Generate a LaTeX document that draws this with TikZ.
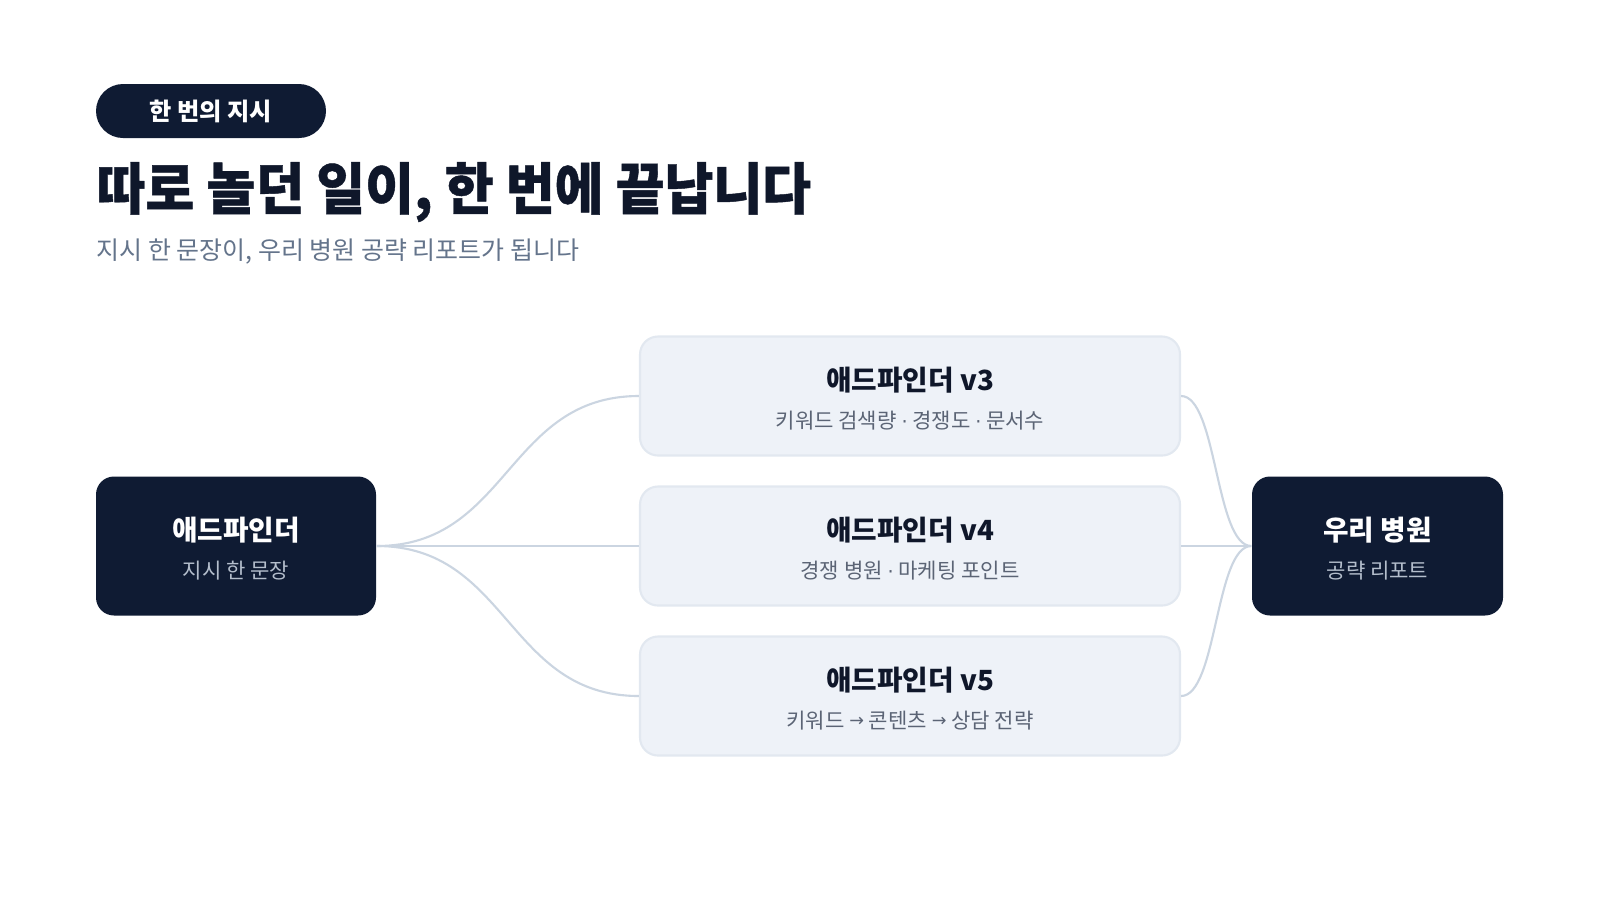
\documentclass[tikz,border=0pt]{standalone}
\usepackage{fontspec}
\usepackage{graphicx}
\setmainfont{Noto Sans CJK KR}
\newfontfamily\heavyfont{Noto Sans CJK KR}[BoldFeatures={FakeBold=0.8}]
\newfontfamily\symfont{DejaVu Sans}
\usepackage{tikz}
\usetikzlibrary{positioning}
\definecolor{navyFill}{HTML}{0F1B33}
\definecolor{inkDark}{HTML}{0F172A}
\definecolor{slateGray}{HTML}{64748B}
\definecolor{toolFill}{HTML}{EEF2F8}
\definecolor{toolLine}{HTML}{E2E8F0}
\definecolor{linkColor}{HTML}{CBD5E1}
\definecolor{subOnDark}{HTML}{B4BECC}
\definecolor{subOnLight}{HTML}{5B6475}
\newcommand{\sep}{ {\symfont\fontsize{5.5}{6}\selectfont ·} }
\newcommand{\arr}{ \raisebox{0.6pt}{\symfont\fontsize{5}{6}\selectfont →} }

\begin{document}
\begin{tikzpicture}[
    darkbox/.style={fill=navyFill, rounded corners=0.18cm, minimum width=#1, minimum height=1.39cm, inner sep=0pt},
    toolbox/.style={fill=toolFill, draw=toolLine, line width=0.6pt, rounded corners=0.18cm, minimum width=5.4cm, minimum height=1.19cm, inner sep=0pt},
    boxtitle/.style={font=\fontsize{7.9}{9}\selectfont\bfseries, text=#1, inner sep=0pt},
    boxsub/.style={font=\fontsize{6.0}{7}\selectfont, text=#1, inner sep=0pt},
    link/.style={draw=linkColor, line width=0.6pt},
  ]
  \fill[white] (0,0) rectangle (16,-9);
  \useasboundingbox (0,0) rectangle (16,-9);

  % Header
  \node[fill=navyFill, rounded corners=0.27cm, minimum width=2.30cm, minimum height=0.54cm,
        text=white, font=\fontsize{6.9}{8}\selectfont\bfseries] (tag) at (2.11,-1.11) {한 번의 지시};
  \node[anchor=west, inner sep=0pt, text=inkDark, font=\fontsize{15.9}{18}\selectfont\heavyfont\bfseries] (title) at (0.96,-1.92)
    {\scalebox{0.95}[1]{따로 놀던 일이, 한 번에 끝납니다}};
  \node[anchor=west, inner sep=0pt, text=slateGray, font=\fontsize{7.1}{8}\selectfont] (subtitle) at (0.96,-2.52)
    {지시 한 문장이, 우리 병원 공략 리포트가 됩니다};

  % Boxes
  \node[darkbox=2.80cm] (src) at (2.36,-5.46) {};
  \node[toolbox] (v3) at (9.10,-3.96) {};
  \node[toolbox] (v4) at (9.10,-5.46) {};
  \node[toolbox] (v5) at (9.10,-6.96) {};
  \node[darkbox=2.51cm] (dst) at (13.775,-5.46) {};

  % Box labels
  \node[boxtitle=white] (srcT) at ([yshift=0.155cm]src.center) {애드파인더};
  \node[boxsub=subOnDark] (srcS) at ([yshift=-0.25cm]src.center) {지시 한 문장};
  \node[boxtitle=inkDark] (v3T) at ([yshift=0.155cm]v3.center) {애드파인더 v3};
  \node[boxsub=subOnLight] (v3S) at ([yshift=-0.25cm]v3.center) {키워드 검색량\sep 경쟁도\sep 문서수};
  \node[boxtitle=inkDark] (v4T) at ([yshift=0.155cm]v4.center) {애드파인더 v4};
  \node[boxsub=subOnLight] (v4S) at ([yshift=-0.25cm]v4.center) {경쟁 병원\sep 마케팅 포인트};
  \node[boxtitle=inkDark] (v5T) at ([yshift=0.155cm]v5.center) {애드파인더 v5};
  \node[boxsub=subOnLight] (v5S) at ([yshift=-0.25cm]v5.center) {키워드\arr 콘텐츠\arr 상담 전략};
  \node[boxtitle=white] (dstT) at ([yshift=0.155cm]dst.center) {우리 병원};
  \node[boxsub=subOnDark] (dstS) at ([yshift=-0.25cm]dst.center) {공략 리포트};

  % Links
  \draw[link] (src.east) .. controls +(1.32,0) and +(-1.32,0) .. (v3.west);
  \draw[link] (src.east) -- (v4.west);
  \draw[link] (src.east) .. controls +(1.32,0) and +(-1.32,0) .. (v5.west);
  \draw[link] (v3.east) .. controls +(0.36,0) and +(-0.36,0) .. (dst.west);
  \draw[link] (v4.east) -- (dst.west);
  \draw[link] (v5.east) .. controls +(0.36,0) and +(-0.36,0) .. (dst.west);
\end{tikzpicture}
\end{document}
